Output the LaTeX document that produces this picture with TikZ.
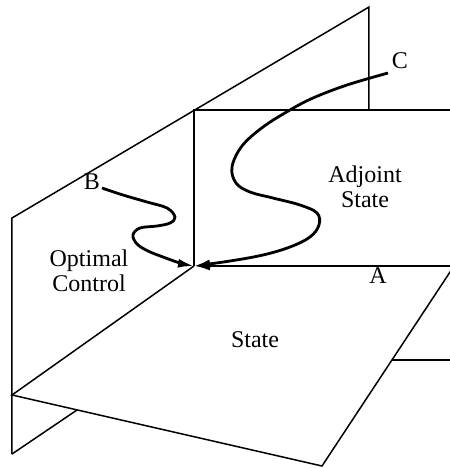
\documentclass[tikz,border=0pt]{standalone}
\usepackage{fontspec}
\setmainfont{Liberation Serif}
\usetikzlibrary{arrows.meta,calc,positioning}

\tikzset{
  edge/.style={line width=0.75pt},
  traj/.style={line width=1.4pt,-{Latex[length=8pt,width=4.5pt]}},
  lab/.style={font=\fontsize{12}{12.5}\selectfont,inner sep=0pt,align=center}
}

\begin{document}
\begin{tikzpicture}[x=0.5pt,y=-0.5pt]
        \useasboundingbox (0,0) rectangle (450,468);
        \clip (0,0) rectangle (450,468);
        % Define coordinates
        \coordinate (O) at (194,266);
        \coordinate (P1) at (12,218);
        \coordinate (P2) at (369,7);
        \coordinate (P3) at (369,110);
        \coordinate (P4) at (12,454);
        \coordinate (P5) at (77,410);
        \coordinate (Q1) at (194,110);
        \coordinate (Q2) at (460,110);
        \coordinate (Q3) at (392,360);
        \coordinate (Q4) at (460,360);
        \coordinate (S1) at (12,395);
        \coordinate (S2) at (322,466);
        \coordinate (S3) at (454,266);
        \coordinate (S4) at (460,266);
        % Optimal control plane
        \draw[edge] (P4) -- (P1) -- (P2) -- (P3);
        \draw[edge] (P4) -- (P5);
        % Adjoint state plane
        \draw[edge] (O) -- (Q1) -- (Q2);
        \draw[edge] (Q3) -- (Q4);
        % State plane
        \draw[edge] (O) -- (S1) -- (S2) -- (S3);
        % Labels
        \node[lab] (labB) at (92,182) {B};
        \node[lab] (labC) at (400,61) {C};
        \node[lab] (labA) at (378,276) {A};
        \node[lab] (ctrl) at (89,271) {Optimal\\Control};
        \node[lab] (adj) at (365,187) {Adjoint\\State};
        \node[lab] (st) at (255,340) {State};
        % Trajectories
        \draw[traj] (S4) -- (O);
        \draw[traj] plot[smooth,tension=0.6] coordinates {(102,188) (123,195) (147,202) (167,208) (175,217)
          (170,223) (157,226) (140,228) (133,235) (137,244) (148,251) (163,257) (180,263) (194,266)};
        \draw[traj] plot[smooth,tension=0.6] coordinates {(388,73) (347,85) (313,98) (290,110) (263,127)
          (242,146) (232,167) (236,183) (250,192) (273,198) (300,205) (317,213) (319,225) (310,237)
          (290,247) (263,255) (230,261) (194,266)};
\end{tikzpicture}
\end{document}
